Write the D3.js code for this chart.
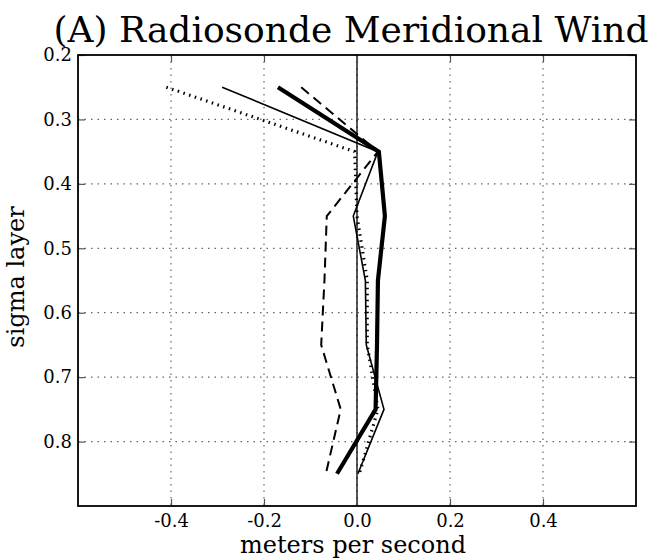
<!DOCTYPE html>
<html>
<head>
<meta charset="utf-8">
<script src="https://cdn.jsdelivr.net/npm/d3@7"></script>
<style>
  body { margin: 0; background: #fff; }
</style>
</head>
<body>
<svg id="chart"></svg>
<script>
// sigma levels and wind profiles (m/s)
const sigma = [0.25, 0.35, 0.45, 0.55, 0.65, 0.75, 0.85];
const thinSolid = [-0.29, 0.045, -0.008, 0.018, 0.02, 0.058, 0.002];
const thickSolid = [-0.17, 0.047, 0.06, 0.045, 0.043, 0.04, -0.043];
const dashed = [-0.12, 0.045, -0.065, -0.07, -0.077, -0.035, -0.067];
const dotted = [-0.41, -0.005, 0.0, 0.022, 0.022, 0.045, 0.005];
const xTicks = [-0.4, -0.2, 0.0, 0.2, 0.4];
const yTicks = [0.2, 0.3, 0.4, 0.5, 0.6, 0.7, 0.8];

const W = 651, H = 560;
const m = {left: 78, right: 15, top: 55, bottom: 54};
const FONT = '"DejaVu Serif", serif';

const svg = d3.select('#chart').attr('width', W).attr('height', H)
  .attr('font-family', FONT);

const x = d3.scaleLinear().domain([-0.6, 0.6]).range([m.left, W - m.right]);
const y = d3.scaleLinear().domain([0.2, 0.9]).range([m.top, H - m.bottom]);
const fmt = d => d.toFixed(1);

// grid
const grid = svg.append('g');
grid.selectAll('.gx').data(xTicks).join('line')
  .attr('x1', d => x(d)).attr('x2', d => x(d))
  .attr('y1', m.top).attr('y2', H - m.bottom)
  .attr('stroke', '#666').attr('stroke-width', 1.2).attr('stroke-dasharray', '1.5,5');
grid.selectAll('.gy').data(yTicks.slice(1)).join('line')
  .attr('y1', d => y(d)).attr('y2', d => y(d))
  .attr('x1', m.left).attr('x2', W - m.right)
  .attr('stroke', '#666').attr('stroke-width', 1.2).attr('stroke-dasharray', '1.5,5');

// zero line
svg.append('line')
  .attr('x1', x(0)).attr('x2', x(0)).attr('y1', m.top).attr('y2', H - m.bottom)
  .attr('stroke', '#000').attr('stroke-width', 1.3);

const line = vals => d3.line().x((d, i) => x(vals[i])).y(d => y(d))(sigma);

const series = [
  {v: dotted, w: 3.2, dash: '1.5,4.5'},
  {v: dashed, w: 2, dash: '10,6'},
  {v: thinSolid, w: 1.6, dash: null},
  {v: thickSolid, w: 4.2, dash: null}
];
series.forEach(s => {
  svg.append('path').attr('d', line(s.v))
    .attr('fill', 'none').attr('stroke', '#000')
    .attr('stroke-width', s.w)
    .attr('stroke-dasharray', s.dash);
});

// axes with inward ticks on all sides
const tk = 7;
const xb = d3.axisBottom(x).tickValues(xTicks).tickFormat(fmt).tickSizeInner(-tk).tickSizeOuter(0).tickPadding(8);
const yl = d3.axisLeft(y).tickValues(yTicks).tickFormat(fmt).tickSizeInner(-tk).tickSizeOuter(0).tickPadding(6);
const gxb = svg.append('g').attr('transform', `translate(0,${H - m.bottom})`).call(xb);
const gyl = svg.append('g').attr('transform', `translate(${m.left},0)`).call(yl);
const gxt = svg.append('g').attr('transform', `translate(0,${m.top})`)
  .call(d3.axisTop(x).tickValues(xTicks).tickFormat('').tickSizeInner(-tk).tickSizeOuter(0));
const gyr = svg.append('g').attr('transform', `translate(${W - m.right},0)`)
  .call(d3.axisRight(y).tickValues(yTicks).tickFormat('').tickSizeInner(-tk).tickSizeOuter(0));
[gxb, gyl, gxt, gyr].forEach(g => {
  g.attr('font-family', FONT).attr('font-size', 18);
  g.select('.domain').remove();
  g.selectAll('.tick line').attr('stroke', '#555').attr('stroke-width', 1.2);
  g.selectAll('text').attr('fill', '#000');
});

// frame
svg.append('rect')
  .attr('x', m.left).attr('y', m.top)
  .attr('width', W - m.left - m.right).attr('height', H - m.top - m.bottom)
  .attr('fill', 'none').attr('stroke', '#000').attr('stroke-width', 1.8);

// labels
svg.append('text').attr('x', 351).attr('y', 42).attr('text-anchor', 'middle')
  .attr('font-size', 36).text('(A) Radiosonde Meridional Wind');
svg.append('text').attr('x', 353).attr('y', 553).attr('text-anchor', 'middle')
  .attr('font-size', 24).text('meters per second');
svg.append('text').attr('transform', 'translate(24,277) rotate(-90)').attr('text-anchor', 'middle')
  .attr('font-size', 24).text('sigma layer');
</script>
</body>
</html>
